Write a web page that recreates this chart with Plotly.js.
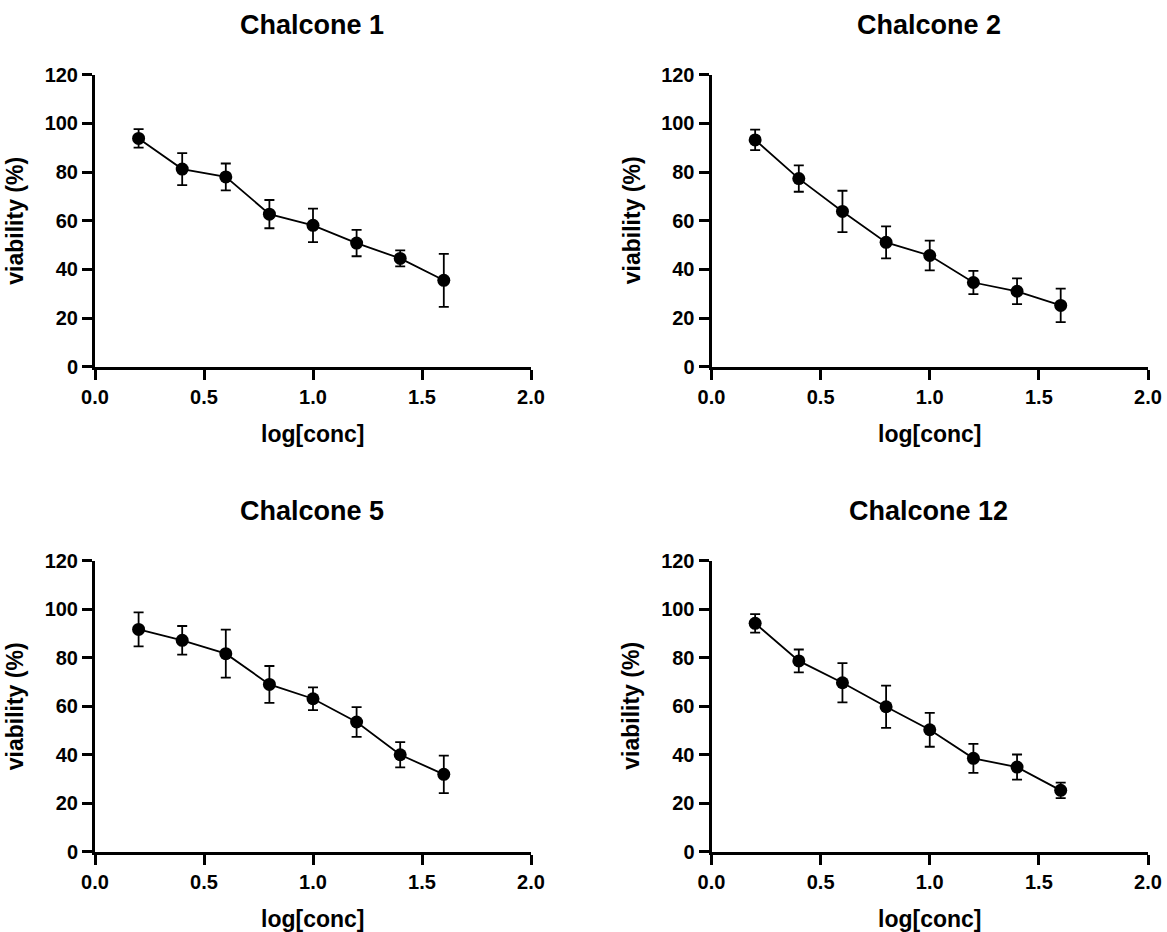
<!DOCTYPE html>
<html>
<head>
<meta charset="utf-8">
<script src="https://cdn.plot.ly/plotly-3.0.1.min.js"></script>
<style>html,body{margin:0;padding:0;background:#fff;}#chart{width:1167px;height:932px;}</style>
</head>
<body>
<div id="chart"></div>
<script>
// Data
const logConc = [0.2, 0.4, 0.6, 0.8, 1.0, 1.2, 1.4, 1.6];
const panelTitles = ["Chalcone 1", "Chalcone 2", "Chalcone 5", "Chalcone 12"];
const chalcone1 = [93.8, 81.2, 78.0, 62.7, 58.1, 50.8, 44.5, 35.5];
const chalcone1Err = [3.8, 6.6, 5.5, 5.8, 6.9, 5.4, 3.3, 10.9];
const chalcone2 = [93.2, 77.3, 63.8, 51.1, 45.7, 34.6, 31.0, 25.2];
const chalcone2Err = [4.2, 5.4, 8.5, 6.6, 6.1, 4.8, 5.3, 6.9];
const chalcone5 = [91.7, 87.2, 81.7, 69.0, 63.1, 53.5, 40.0, 31.9];
const chalcone5Err = [7.0, 5.9, 9.9, 7.6, 4.7, 6.1, 5.2, 7.7];
const chalcone12 = [94.2, 78.7, 69.7, 59.8, 50.3, 38.5, 34.9, 25.3];
const chalcone12Err = [3.8, 4.7, 8.1, 8.7, 7.0, 6.0, 5.2, 3.2];
const xTitle = "log[conc]";
const yTitle = "viability (%)";

const series = [chalcone1, chalcone2, chalcone5, chalcone12];
const errors = [chalcone1Err, chalcone2Err, chalcone5Err, chalcone12Err];

const W = 1167, H = 932;
const FONT = "Arial, 'Liberation Sans', sans-serif";
const xDomains = [[95/W, 531/W], [711.5/W, 1148/W]];
const yDomains = [[1 - 366.7/H, 1 - 74.7/H], [1 - 851.7/H, 1 - 560.8/H]];

const traces = [];
const layout = {
  width: W, height: H,
  margin: {l: 0, r: 0, t: 0, b: 0},
  paper_bgcolor: "#fff", plot_bgcolor: "#fff",
  showlegend: false,
  font: {family: FONT, color: "#000"},
  annotations: []
};

for (let i = 0; i < 4; i++) {
  const col = i % 2, row = Math.floor(i / 2);
  const sfx = i === 0 ? "" : String(i + 1);
  traces.push({
    type: "scatter", mode: "lines+markers",
    x: logConc, y: series[i],
    xaxis: "x" + sfx, yaxis: "y" + sfx,
    line: {color: "#000", width: 1.8},
    marker: {color: "#000", size: 13, symbol: "circle"},
    error_y: {type: "data", array: errors[i], visible: true, color: "#000", thickness: 1.8, width: 5},
    cliponaxis: false
  });
  const axCommon = {
    showline: true, linecolor: "#000", linewidth: 3,
    ticks: "outside", ticklen: 10, tickwidth: 3, tickcolor: "#000",
    showgrid: false, zeroline: false,
    tickfont: {family: FONT, size: 20, weight: "bold", color: "#000"},
    fixedrange: true
  };
  layout["xaxis" + sfx] = Object.assign({}, axCommon, {
    domain: xDomains[col], range: [0, 2], dtick: 0.5, tick0: 0, tickformat: ".1f",
    anchor: "y" + sfx
  });
  layout["yaxis" + sfx] = Object.assign({}, axCommon, {
    domain: yDomains[row], range: [0, 120], dtick: 20, tick0: 0,
    anchor: "x" + sfx
  });
  const xc = (xDomains[col][0] + xDomains[col][1]) / 2;
  const yTop = yDomains[row][1], yBot = yDomains[row][0];
  // Panel title
  layout.annotations.push({
    text: panelTitles[i], xref: "paper", yref: "paper",
    x: xc - 1/W, y: yTop + 50/H, xanchor: "center", yanchor: "middle", showarrow: false,
    font: {family: FONT, size: 27, weight: "bold", color: "#000"}
  });
  // X axis title
  layout.annotations.push({
    text: xTitle, xref: "paper", yref: "paper",
    x: xc, y: yBot - 67/H, xanchor: "center", yanchor: "middle", showarrow: false,
    font: {family: FONT, size: 23, weight: "bold", color: "#000"}
  });
  // Y axis title
  layout.annotations.push({
    text: yTitle, xref: "paper", yref: "paper",
    x: xDomains[col][0] - 80/W, y: (yTop + yBot) / 2, xanchor: "center", yanchor: "middle",
    textangle: -90, showarrow: false,
    font: {family: FONT, size: 23, weight: "bold", color: "#000"}
  });
}

Plotly.newPlot("chart", traces, layout, {staticPlot: true, displayModeBar: false});
</script>
</body>
</html>
